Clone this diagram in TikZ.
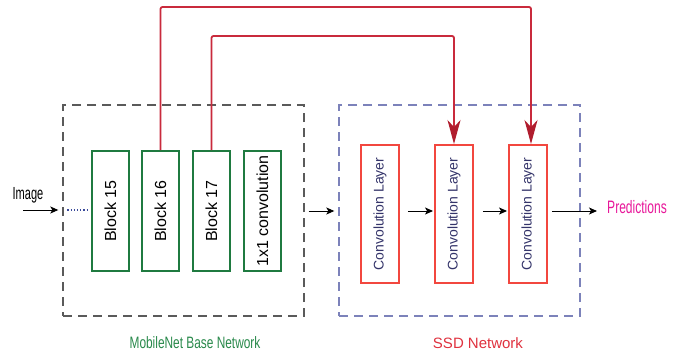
\documentclass[tikz,border=0pt]{standalone}
\usepackage{fontspec}
\setmainfont{Liberation Sans}
\usetikzlibrary{arrows.meta}
\definecolor{gboxc}{HTML}{1F7A40}
\definecolor{cboxc}{HTML}{F2473F}
\definecolor{linkc}{HTML}{C92A3C}
\definecolor{tipc}{HTML}{B01D2E}
\definecolor{grayframe}{HTML}{5A5A5A}
\definecolor{blueframe}{HTML}{7C82BA}
\definecolor{convtext}{HTML}{34346A}
\definecolor{predc}{HTML}{E8189A}
\definecolor{mobc}{HTML}{2A8A4C}
\definecolor{ssdc}{HTML}{E0323F}
\definecolor{dotc}{HTML}{3A4A9A}
\tikzset{
  frame/.style={draw, line width=1.4pt, dash pattern=on 9pt off 6pt, minimum width=241pt, minimum height=211pt, inner sep=0pt},
  gbox/.style={draw=gboxc, line width=1.9pt, minimum width=37pt, minimum height=120pt, inner sep=0pt, font=\fontsize{16}{18}\selectfont},
  cbox/.style={draw=cboxc, line width=1.9pt, minimum width=38pt, minimum height=138pt, inner sep=0pt, text=convtext, font=\fontsize{14}{16}\selectfont},
  arr/.style={-{Stealth[length=8pt,width=7pt,inset=2pt]}, line width=1pt},
  link/.style={draw=linkc, line width=1.8pt, rounded corners=2pt, -{Stealth[length=24pt,width=13pt,inset=7pt,color=tipc]}},
  lbl/.style={inner sep=0pt}
}
\begin{document}
\begin{tikzpicture}[x=1pt,y=-1pt]
\useasboundingbox (0,0) rectangle (680,353);
\fill[white] (0,0) rectangle (680,353);

% dashed frames of the two networks
\node[frame, draw=grayframe] (mbox) at (183.5,210.5) {};
\node[frame, draw=blueframe] (sbox) at (459.5,210.5) {};

% MobileNet blocks
\node[gbox] (b15) at (110.3,211) {\rotatebox{90}{Block 15}};
\node[gbox] (b16) at (160.5,211) {\rotatebox{90}{Block 16}};
\node[gbox] (b17) at (211.5,211) {\rotatebox{90}{Block 17}};
\node[gbox] (c11) at (262.5,211) {\rotatebox{90}{1x1 convolution}};

% SSD convolution layers
\node[cbox] (cv1) at (380,214) {\rotatebox{90}{Convolution Layer}};
\node[cbox] (cv2) at (454,214) {\rotatebox{90}{Convolution Layer}};
\node[cbox] (cv3) at (528,214) {\rotatebox{90}{Convolution Layer}};

% texts
\node[lbl, font=\fontsize{17.5}{19}\selectfont] (img) at (28,195) {\scalebox{0.63}[1]{Image}};
\node[lbl, text=predc, font=\fontsize{18}{20}\selectfont, anchor=west] (pred) at (607,207) {\scalebox{0.67}[1]{Predictions}};
\node[lbl, text=mobc, font=\fontsize{16.5}{18}\selectfont] (mlab) at (195,343) {\scalebox{0.72}[1]{MobileNet Base Network}};
\node[lbl, text=ssdc, font=\fontsize{15}{17}\selectfont] (slab) at (478,343) {SSD Network};

% input
\coordinate (imgin) at (23,210);
\draw[arr] (imgin) -- ([xshift=-4pt]mbox.west |- imgin);
\draw[dotted, draw=dotc, line width=1.2pt] ([xshift=5pt]mbox.west |- imgin) -- ([xshift=-2pt]b15.west |- imgin);

% forward flow
\draw[arr, shorten <=4pt, shorten >=4pt] (mbox.east |- 0,211) -- (sbox.west |- 0,211);
\draw[arr, shorten <=8pt, shorten >=1pt] (cv1.east |- 0,211) -- (cv2.west |- 0,211);
\draw[arr, shorten <=9pt, shorten >=1pt] (cv2.east |- 0,211) -- (cv3.west |- 0,211);
\draw[arr, shorten <=4pt, shorten >=1pt] (cv3.east |- 0,211) -- ([xshift=-9pt]pred.west |- 0,211);

% skip connections feeding the SSD layers
\draw[link] (b16.north) -- (b16.north |- 0,7) -- ([xshift=3pt]cv3.north |- 0,7) -- ([xshift=3pt]cv3.north);
\draw[link] (b17.north) -- (b17.north |- 0,36) -- (cv2.north |- 0,36) -- (cv2.north);
\end{tikzpicture}
\end{document}
